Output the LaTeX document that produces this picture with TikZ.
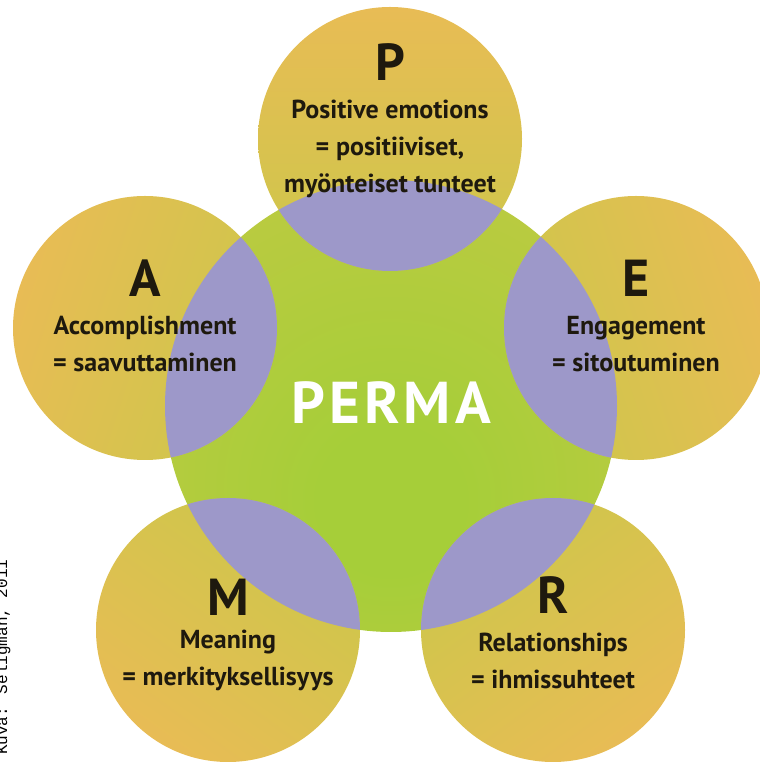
\documentclass[tikz,border=0pt]{standalone}
\usepackage{fontspec}
\setmainfont{PT Sans}
\newfontfamily\creditfont{Liberation Mono}

\definecolor{petalout}{HTML}{E8BC55}
\definecolor{petalin}{HTML}{CCC74A}
\definecolor{hubgreen}{HTML}{A6CE39}
\definecolor{hubrim}{HTML}{C9C846}
\definecolor{lens}{HTML}{9D98C9}
\definecolor{ink}{HTML}{1E190E}

\pgfdeclareradialshading{hubshade}{\pgfpoint{0bp}{-12bp}}{color(0bp)=(hubgreen); color(8bp)=(hubgreen); color(50bp)=(hubrim); color(70bp)=(hubrim)}

\tikzset{
  bigletter/.style={text=ink, font=\bfseries\fontsize{52}{52}\selectfont},
  petaltext/.style={text=ink, align=center, font=\bfseries\fontsize{26}{37}\selectfont},
}

\begin{document}
\begin{tikzpicture}[x=1pt,y=1pt]
\useasboundingbox (0,0) rectangle (760,763);
% centres of the circles
\coordinate (hub) at (391,357);
\coordinate (p) at (390,624);
\coordinate (e) at (636,435);
\coordinate (r) at (553,133);
\coordinate (m) at (228,133);
\coordinate (a) at (145,435);

\shade[shading=hubshade] (hub) circle (226);
\foreach \c/\ang in {p/0,e/-72,r/216,m/144,a/72}
  \shade[top color=petalout, bottom color=petalin, shading angle=\ang] (\c) circle (132);
% overlaps
\foreach \c in {p,e,r,m,a}{
  \begin{scope}
    \clip (hub) circle (226);
    \fill[lens] (\c) circle (132);
  \end{scope}}

\node[text=white, font=\bfseries\fontsize{59}{59}\selectfont\addfontfeature{LetterSpace=7}] (perma) at (391,360) {PERMA};

\node[bigletter] (pLetter) at (390,701) {P};
\node[petaltext] (pText) at (390,614) {Positive emotions\\= positiiviset,\\myönteiset tunteet};
\node[bigletter] (aLetter) at (145,485) {A};
\node[petaltext] (aText) at (145,419) {Accomplishment\\= saavuttaminen};
\node[bigletter] (eLetter) at (636,485) {E};
\node[petaltext] (eText) at (636,419) {Engagement\\= sitoutuminen};
\node[bigletter] (mLetter) at (228,166) {M};
\node[petaltext] (mText) at (228,103) {Meaning\\= merkityksellisyys};
\node[bigletter] (rLetter) at (553,168) {R};
\node[petaltext] (rText) at (553,102) {Relationships\\= ihmissuhteet};

\node[rotate=90, anchor=base west, inner sep=0pt, font=\creditfont\fontsize{16}{16}\selectfont] (credit) at (7,8) {Kuva: Seligman, 2011};
\end{tikzpicture}
\end{document}
